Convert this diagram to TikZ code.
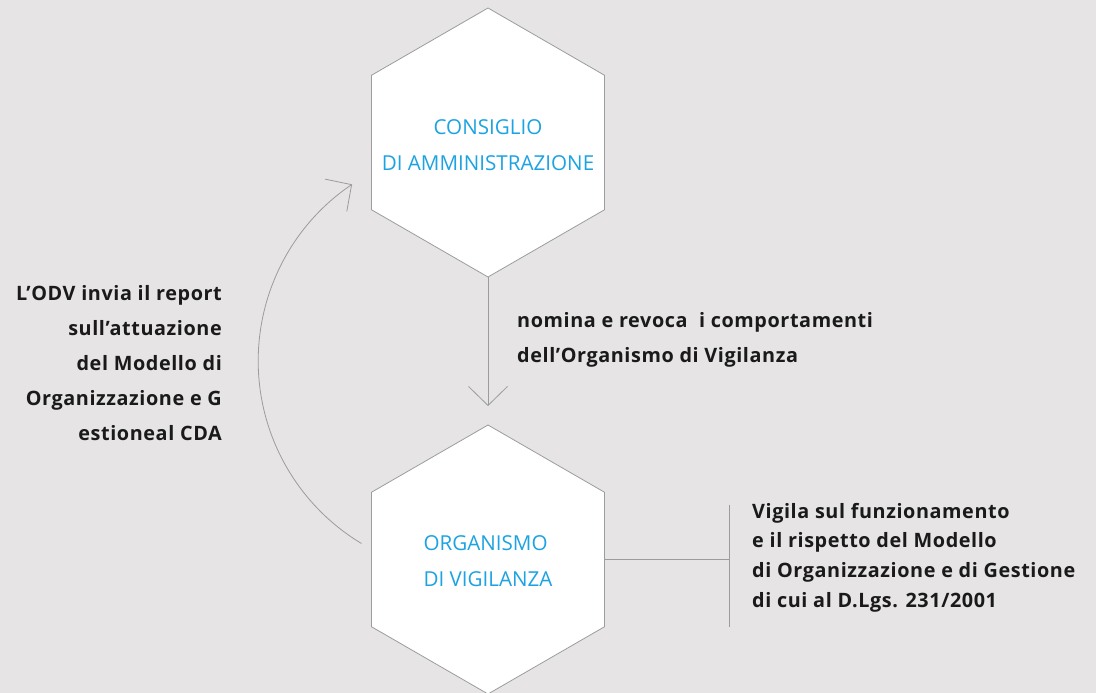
\documentclass[tikz,border=0pt]{standalone}
\usepackage{fontspec}
\setmainfont{Open Sans}
\usepackage{tikz}
\usetikzlibrary{shapes.geometric,arrows.meta}
\definecolor{bg}{HTML}{E6E4E5}
\definecolor{edge}{HTML}{9A9C9F}
\definecolor{hexblue}{HTML}{1CA3E2}
\definecolor{ink}{HTML}{1A1A1A}
\tikzset{
  hexbox/.style={regular polygon, regular polygon sides=6, shape border rotate=30,
    minimum size=269pt, inner sep=0pt, outer sep=0pt, fill=white, draw=edge,
    line width=0.8pt},
  hexlab/.style={text=hexblue, font=\fontsize{20.6}{36}\selectfont, inner sep=0pt},
  conn/.style={draw=edge, line width=0.8pt},
  arr/.style={-{Straight Barb[length=19pt,width=39pt]}},
  lab/.style={text=ink, font=\bfseries\fontsize{19.8}{35}\selectfont\addfontfeature{LetterSpace=3}, inner sep=0pt},
}

\begin{document}
\begin{tikzpicture}[x=1pt,y=-1pt]
  \fill[bg] (0,0) rectangle (1096,693);
  \useasboundingbox (0,0) rectangle (1096,693);
  % the two hexagons
  \node[hexbox] (cda) at (488,142.5) {};
  \node[hexbox] (odv) at (488,559.5) {};
  \node[hexlab, align=center] (cdatext) at ([yshift=-3pt]cda.center) {CONSIGLIO\\DI AMMINISTRAZIONE};
  \node[hexlab, align=left] (odvtext) at ([yshift=-2pt]odv.center) {ORGANISMO\\DI VIGILANZA};
  % connectors
  \draw[conn,arr,shorten >=19pt] (cda.south) -- (odv.north);
  \draw[conn,arr] ([shift={(-10,-16)}]odv.west) arc[start angle=239, end angle=124, radius=213pt];
  \coordinate (tee) at ([xshift=125pt]odv.east);
  \draw[conn] (odv.east) -- (tee);
  \draw[conn] ([yshift=55pt]tee) -- ([yshift=-67pt]tee);
  % labels
  \node[lab, anchor=north east, align=right] (report) at (222,285)
    {L’ODV invia il report\\sull’attuazione\\del Modello di\\Organizzazione e G\\estioneal CDA};
  \node[lab, anchor=north west, align=left] (nomina) at (517,312)
    {nomina e revoca\ \ i comportamenti\\dell’Organismo di Vigilanza};
  \node[lab, anchor=north west, align=left, font=\bfseries\fontsize{19.8}{29.6}\selectfont\addfontfeature{LetterSpace=3}] (vigila) at (752,503)
    {Vigila sul funzionamento\\e il rispetto del Modello\\di Organizzazione e di Gestione\\di cui al D.Lgs. 231/2001};
\end{tikzpicture}
\end{document}
